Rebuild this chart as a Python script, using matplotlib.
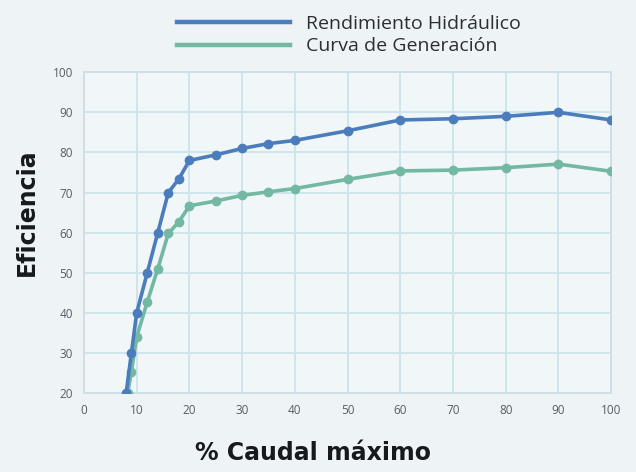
import matplotlib.pyplot as plt
from matplotlib.lines import Line2D

# Datos
x_rend = [8, 9, 10, 12, 14, 16, 18, 20, 25, 30, 35, 40, 50, 60, 70, 80, 90, 100]
rendimiento = [20, 30, 40, 50, 60, 70, 73.4, 78, 79.4, 81, 82.2, 83, 85.4, 88.1, 88.4, 89, 90, 88.1]

x_gen = [8.3, 9, 10, 12, 14, 16, 18, 20, 25, 30, 35, 40, 50, 60, 70, 80, 90, 100]
generacion = [20, 25.4, 34, 42.7, 51, 59.8, 62.7, 66.7, 67.9, 69.3, 70.2, 71, 73.3, 75.4, 75.6, 76.2, 77.1, 75.3]

x_ticks = [0, 10, 20, 30, 40, 50, 60, 70, 80, 90, 100]
y_ticks = [20, 30, 40, 50, 60, 70, 80, 90, 100]

azul = '#4b7dbd'
verde = '#72b8a2'
fondo = '#eef3f6'

plt.rcParams['font.family'] = ['Open Sans', 'DejaVu Sans']

fig = plt.figure(figsize=(6.36, 4.72), dpi=100, facecolor=fondo)
ax = fig.add_axes([0.132, 0.167, 0.829, 0.680])
ax.set_facecolor('#f1f6f8')

ax.plot(x_gen, generacion, color=verde, lw=2.6, marker='o', ms=6, zorder=3)
ax.plot(x_rend, rendimiento, color=azul, lw=2.6, marker='o', ms=6, zorder=4)

ax.set_xlim(0, 100)
ax.set_ylim(20, 100)
ax.set_xticks(x_ticks)
ax.set_yticks(y_ticks)
ax.grid(True, color='#cfe5ec', lw=1.4)
ax.set_axisbelow(True)
for s in ax.spines.values():
    s.set_color('#cfdfe5')
    s.set_linewidth(1.4)
ax.tick_params(length=0, labelsize=8.5, colors='#555e66', pad=8)

ax.set_xlabel('% Caudal máximo', fontsize=17, fontweight='bold', color='#16191d',
              family='DejaVu Sans')
ax.xaxis.set_label_coords(0.435, -0.15)
ax.set_ylabel('Eficiencia', fontsize=17, fontweight='bold', color='#16191d',
              family='DejaVu Sans')
ax.yaxis.set_label_coords(-0.085, 0.564)

handles = [Line2D([], [], color=azul, lw=3.2), Line2D([], [], color=verde, lw=3.2)]
fig.legend(handles, ['Rendimiento Hidráulico', 'Curva de Generación'],
           loc='upper left', bbox_to_anchor=(0.251, 1.005), frameon=False,
           fontsize=14, handlelength=5.8, handletextpad=0.85, labelspacing=0.22,
           labelcolor='#2b2f33')

plt.savefig('out.png', dpi=100, facecolor=fondo)
